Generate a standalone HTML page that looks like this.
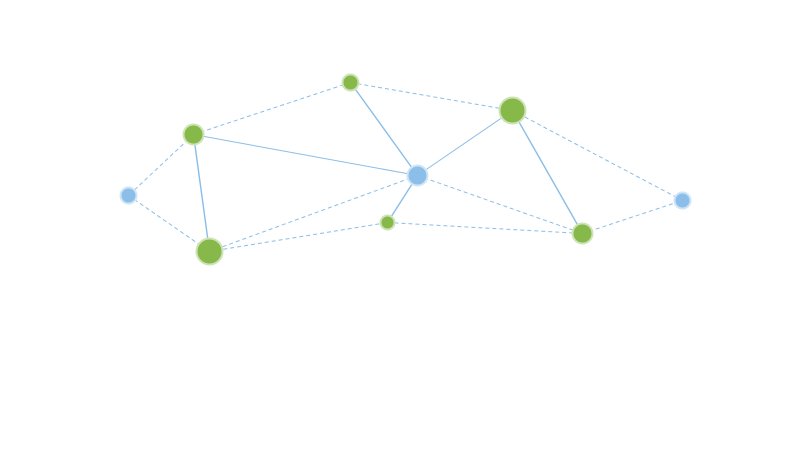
<!DOCTYPE html>
<html><head><style>html,body{margin:0;padding:0;background:#fff;width:800px;height:452px;overflow:hidden}</style></head>
<body>
<svg width="800" height="452" xmlns="http://www.w3.org/2000/svg">
<g transform="translate(0.5,0.5)">
<g stroke="#8bbde6" stroke-width="1" fill="none">
<g stroke-dasharray="4,3">
<line x1="350" y1="82" x2="193" y2="134"/>
<line x1="350" y1="82" x2="512" y2="110"/>
<line x1="193" y1="134" x2="128" y2="195"/>
<line x1="128" y1="195" x2="209" y2="251"/>
<line x1="209" y1="251" x2="417" y2="175"/>
<line x1="209" y1="251" x2="387" y2="222"/>
<line x1="417" y1="175" x2="582" y2="233"/>
<line x1="387" y1="222" x2="582" y2="233"/>
<line x1="512" y1="110" x2="682" y2="200"/>
<line x1="582" y1="233" x2="682" y2="200"/>
</g>
<line x1="350" y1="82" x2="417" y2="175" stroke-width="1.4"/>
<line x1="193" y1="134" x2="417" y2="175"/>
<line x1="193" y1="134" x2="209" y2="251" stroke-width="1.4"/>
<line x1="417" y1="175" x2="387" y2="222" stroke-width="1.4"/>
<line x1="417" y1="175" x2="512" y2="110"/>
<line x1="512" y1="110" x2="582" y2="233" stroke-width="1.4"/>
</g>
<g>
<circle cx="350" cy="82" r="8" fill="#86b84a" stroke="#cde3b6" stroke-width="2"/>
<circle cx="193" cy="134" r="10" fill="#86b84a" stroke="#cde3b6" stroke-width="2"/>
<circle cx="209" cy="251" r="13" fill="#86b84a" stroke="#cde3b6" stroke-width="2"/>
<circle cx="512" cy="110" r="13" fill="#86b84a" stroke="#cde3b6" stroke-width="2"/>
<circle cx="387" cy="222" r="7" fill="#86b84a" stroke="#cde3b6" stroke-width="2"/>
<circle cx="582" cy="233" r="10" fill="#86b84a" stroke="#cde3b6" stroke-width="2"/>
<circle cx="128" cy="195" r="8" fill="#8bbfe9" stroke="#cfe4f6" stroke-width="2"/>
<circle cx="417" cy="175" r="10" fill="#8bbfe9" stroke="#cfe4f6" stroke-width="2"/>
<circle cx="682" cy="200" r="8" fill="#8bbfe9" stroke="#cfe4f6" stroke-width="2"/>
</g>
</g>
</svg>
</body></html>
